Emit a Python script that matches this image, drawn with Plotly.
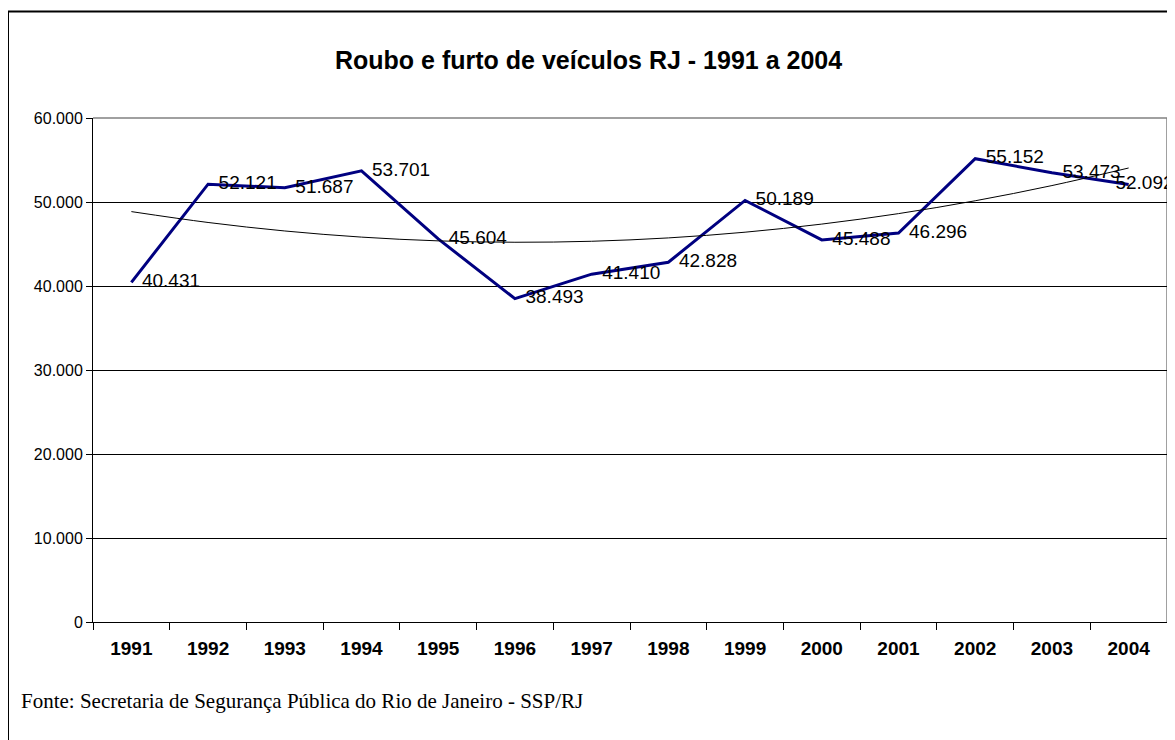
import numpy as np
import plotly.graph_objects as go

years = ["1991", "1992", "1993", "1994", "1995", "1996", "1997",
         "1998", "1999", "2000", "2001", "2002", "2003", "2004"]
values = [40431, 52121, 51687, 53701, 45604, 38493, 41410,
          42828, 50189, 45488, 46296, 55152, 53473, 52092]
y_ticks = [0, 10000, 20000, 30000, 40000, 50000, 60000]

title_text = "Roubo e furto de veículos RJ - 1991 a 2004"
source_text = "Fonte: Secretaria de Segurança Pública do Rio de Janeiro - SSP/RJ"

# Polynomial (order 2) trend line, as in the original spreadsheet chart
idx = np.arange(1, len(values) + 1)
coef = np.polyfit(idx, values, 2)
trend = np.polyval(coef, idx)

# data labels: Brazilian thousands separator, placed right of the point;
# the last one is pulled back inside the chart area
labels = []
positions = []
for i, v in enumerate(values):
    s = f"{v:,}".replace(",", ".")
    if i == len(values) - 1:
        labels.append("      " + s)
        positions.append("middle center")
    else:
        labels.append("  " + s)
        positions.append("middle right")

OFF = 8  # page body margin
W, H = 1167, 732
L, R, T, B = 85, 8, 110, 118
pw, ph = W - L - R, H - T - B


def px_x(p):
    return (p - OFF - L) / pw


def px_y(p):
    return (H - B - (p - OFF)) / ph


fig = go.Figure()
fig.add_trace(go.Scatter(
    x=years, y=values, mode="lines+text",
    line=dict(color="#000080", width=3),
    text=labels, textposition=positions,
    textfont=dict(family="Liberation Sans, Arial", size=19, color="black"),
    cliponaxis=False, showlegend=False, hoverinfo="x+y",
))
fig.add_trace(go.Scatter(
    x=years, y=trend, mode="lines",
    line=dict(color="black", width=1, shape="spline"),
    showlegend=False, hoverinfo="skip",
))

fig.update_layout(
    width=W, height=H,
    margin=dict(l=L, r=R, t=T, b=B, pad=0),
    paper_bgcolor="white", plot_bgcolor="white",
    font=dict(family="Liberation Sans, Arial", color="black"),
    xaxis=dict(
        type="category", tickson="boundaries", ticks="outside", ticklen=7,
        tickcolor="black", showline=True, linecolor="black", linewidth=1,
        showgrid=False, tickfont=dict(size=19, family="Liberation Sans, Arial",
                                      weight="bold"),
        ticklabelstandoff=9,
        range=[-0.5, 13.5], fixedrange=True,
    ),
    yaxis=dict(
        range=[0, 60000], tickvals=y_ticks,
        ticktext=[f"{v:,}".replace(",", ".") for v in y_ticks],
        ticks="outside", ticklen=6, tickcolor="black",
        showline=True, linecolor="black", linewidth=1,
        showgrid=True, gridcolor="black", gridwidth=1, zeroline=False,
        tickfont=dict(size=16), fixedrange=True,
    ),
    shapes=[
        dict(type="line", xref="paper", yref="paper", x0=0, x1=1, y0=1, y1=1,
             line=dict(color="#808080", width=1.5), layer="above"),
        dict(type="line", xref="paper", yref="paper", x0=1, x1=1, y0=0, y1=1,
             line=dict(color="#808080", width=1.5), layer="below"),
        dict(type="rect", xref="paper", yref="paper",
             x0=px_x(8), x1=px_x(1200), y0=px_y(800), y1=px_y(11.5),
             line=dict(color="black", width=2), fillcolor="rgba(0,0,0,0)",
             layer="above"),
    ],
    annotations=[
        dict(text=f"<b>{title_text}</b>", xref="paper", yref="paper",
             x=px_x(588), y=px_y(60), xanchor="center", yanchor="middle",
             showarrow=False, font=dict(size=25, family="Liberation Sans, Arial")),
        dict(text=source_text, xref="paper", yref="paper",
             x=px_x(19), y=px_y(701), xanchor="left", yanchor="middle",
             showarrow=False,
             font=dict(size=21, family="Liberation Serif, Times New Roman")),
    ],
)

fig.write_html("out.html")
